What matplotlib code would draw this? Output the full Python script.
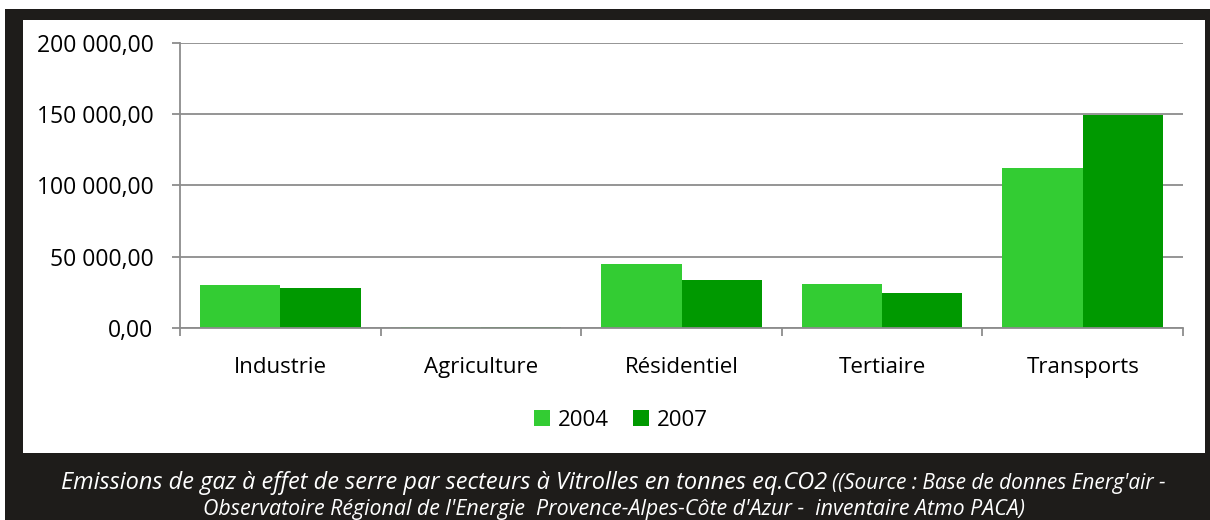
import matplotlib
matplotlib.use("Agg")
import matplotlib.pyplot as plt
from matplotlib.patches import Rectangle
from matplotlib.ticker import FuncFormatter
import numpy as np

plt.rcParams['font.family'] = ['Open Sans', 'DejaVu Sans']

secteurs = ["Industrie", "Agriculture", "Résidentiel", "Tertiaire", "Transports"]
annees = ["2004", "2007"]
val_2004 = [30500, 700, 45000, 31200, 112000]
val_2007 = [28400, 500, 33800, 24500, 149500]
couleurs = ["#33cc33", "#009900"]
titre = "Emissions de gaz à effet de serre par secteurs à Vitrolles en tonnes eq.CO2"
source1 = "((Source : Base de donnes Energ'air -"
source2 = "Observatoire Régional de l'Energie  Provence-Alpes-Côte d'Azur -  inventaire Atmo PACA)"

W, H = 1210, 520
fig = plt.figure(figsize=(W / 100, H / 100), dpi=100, facecolor="white")

# cadre noir et panneau blanc
fig.patches.append(Rectangle((5 / W, 0), 1, 1 - 9 / H, transform=fig.transFigure,
                             facecolor="#1e1c1a", edgecolor="none", zorder=-10))
fig.patches.append(Rectangle((23 / W, 1 - 453 / H), (1205 - 23) / W, (453 - 20) / H,
                             transform=fig.transFigure, facecolor="white",
                             edgecolor="none", zorder=-9))

ax = fig.add_axes([180 / W, 1 - 328 / H, (1183 - 180) / W, (328 - 43) / H])
ax.set_facecolor("none")

x = np.arange(len(secteurs))
w = 0.4
b1 = ax.bar(x - w / 2, val_2004, w, color=couleurs[0], label=annees[0], zorder=3)
b2 = ax.bar(x + w / 2, val_2007, w, color=couleurs[1], label=annees[1], zorder=3)

ax.set_xlim(-0.5, len(secteurs) - 0.5)
ax.set_ylim(0, 200000)
ax.set_yticks([0, 50000, 100000, 150000, 200000])
ax.yaxis.set_major_formatter(FuncFormatter(
    lambda v, p: "{:,.2f}".format(v).replace(",", " ").replace(".", ",")))
ax.grid(axis="y", color="#8c8c8c", linewidth=1.3, zorder=1)

ax.set_xticks(x)
ax.set_xticklabels(secteurs)
ax.set_xticks(np.arange(len(secteurs) + 1) - 0.5, minor=True)
ax.tick_params(axis="x", which="major", length=0, pad=21, labelsize=16)
ax.tick_params(axis="x", which="minor", length=6, width=1.3, color="#8c8c8c")
ax.tick_params(axis="y", length=6, width=1.3, color="#8c8c8c", pad=13, labelsize=16.5)

for s in ["top", "right"]:
    ax.spines[s].set_visible(False)
for s in ["left", "bottom"]:
    ax.spines[s].set_color("#8c8c8c")
    ax.spines[s].set_linewidth(1.3)
ax.spines["bottom"].set_zorder(4)

fig.legend(handles=[b1, b2], labels=annees, loc="center",
           bbox_to_anchor=(621 / W, 1 - 420 / H), ncol=2, frameon=False,
           fontsize=16, handlelength=0.7, handleheight=0.7,
           handletextpad=0.35, columnspacing=1.1)

# legende sous le graphique : deux tailles sur la premiere ligne
r = fig.canvas.get_renderer()
t1 = fig.text(61 / W, 1 - 483 / H, titre, color="white", style="italic",
              fontsize=10, ha="left", va="center")
t1.set_fontsize(10 * 764 / t1.get_window_extent(r).width)
t2 = fig.text(832 / W, 1 - 484 / H, source1, color="white", style="italic",
              fontsize=10, ha="left", va="center")
t2.set_fontsize(10 * 334 / t2.get_window_extent(r).width)
t3 = fig.text(203 / W, 1 - 510 / H, source2, color="white", style="italic",
              fontsize=10, ha="left", va="center")
t3.set_fontsize(10 * 821 / t3.get_window_extent(r).width)

fig.savefig("out.png", dpi=100, facecolor=fig.get_facecolor())
